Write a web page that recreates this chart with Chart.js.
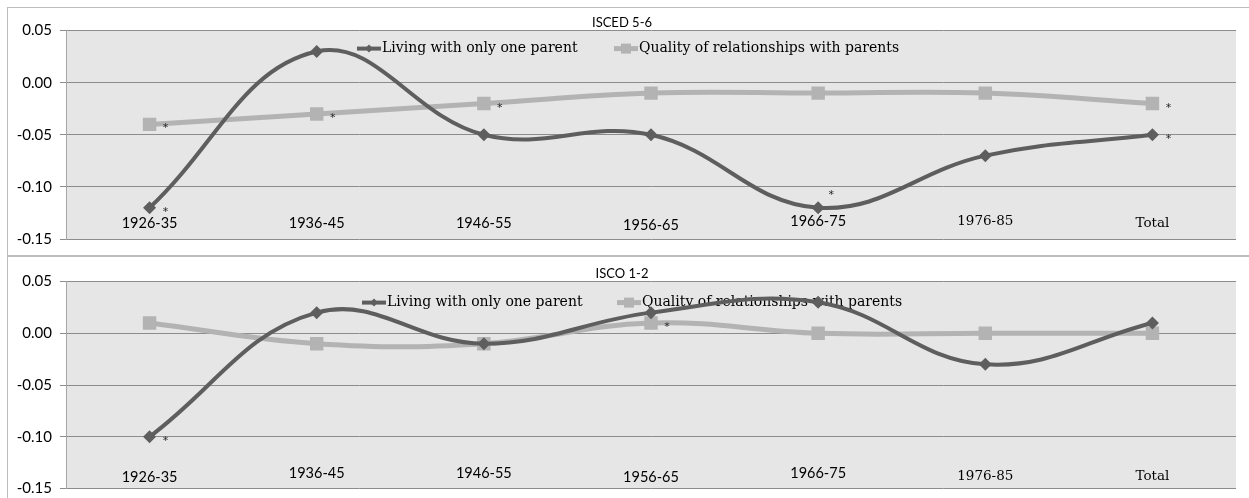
<!DOCTYPE html>
<html>
<head>
<meta charset="utf-8">
<script src="https://cdn.jsdelivr.net/npm/chart.js@4/dist/chart.umd.min.js"></script>
<style>
  body { margin: 0; background: #fff; width: 1249px; height: 498px; overflow: hidden; position: relative; }
  .panel { position: absolute; left: 7px; width: 1250px; border: 1px solid #bdbdbd; background: #fff; }
  #p1 { top: 7px; height: 247px; }
  #p2 { top: 256px; height: 250px; }
  canvas { display: block; }
</style>
</head>
<body>
<div class="panel" id="p1"><canvas id="c1" width="1241" height="247"></canvas></div>
<div class="panel" id="p2"><canvas id="c2" width="1241" height="241"></canvas></div>
<script>
// --- Data ---
const cohorts = ["1926-35", "1936-45", "1946-55", "1956-65", "1966-75", "1976-85", "Total"];
const seriesNames = ["Living with only one parent", "Quality of relationships with parents"];

// ISCED 5-6
const iscedLiving = [-0.12, 0.03, -0.05, -0.05, -0.12, -0.07, -0.05];
const iscedQuality = [-0.04, -0.03, -0.02, -0.01, -0.01, -0.01, -0.02];
const iscedLivingSig = [1, 0, 0, 0, 1, 0, 1];
const iscedQualitySig = [1, 1, 1, 0, 0, 0, 1];

// ISCO 1-2
const iscoLiving = [-0.10, 0.02, -0.01, 0.02, 0.03, -0.03, 0.01];
const iscoQuality = [0.01, -0.01, -0.01, 0.01, 0.00, 0.00, 0.00];
const iscoLivingSig = [1, 0, 0, 0, 0, 0, 0];
const iscoQualitySig = [0, 0, 0, 1, 0, 0, 0];

const DARK = "#5e5e5e";
const LIGHT = "#b3b3b3";

// --- Plugins ---
const plotBg = {
  id: "plotBg",
  beforeDraw(chart) {
    const { ctx, chartArea: a } = chart;
    ctx.save();
    ctx.fillStyle = "#e6e6e6";
    ctx.fillRect(a.left, a.top, a.right - a.left, a.bottom - a.top);
    ctx.restore();
  }
};

function marker(ctx, style, x, y, r, color) {
  ctx.fillStyle = color;
  ctx.beginPath();
  if (style === "rectRot") {
    ctx.moveTo(x, y - r); ctx.lineTo(x + r, y); ctx.lineTo(x, y + r); ctx.lineTo(x - r, y);
  } else {
    ctx.rect(x - r, y - r, 2 * r, 2 * r);
  }
  ctx.closePath();
  ctx.fill();
}

// Excel-like legend sitting inside the plot area
const lineLegend = {
  id: "lineLegend",
  beforeDatasetsDraw(chart, args, opts) {
    const { ctx, chartArea: a } = chart;
    const y = a.top + opts.dy;
    ctx.save();
    ctx.font = "14px 'DejaVu Serif'";
    ctx.textBaseline = "middle";
    chart.data.datasets.forEach((ds, i) => {
      const x = a.left + opts.xs[i];
      ctx.strokeStyle = ds.borderColor;
      ctx.lineWidth = ds.borderWidth;
      ctx.beginPath(); ctx.moveTo(x, y); ctx.lineTo(x + 24, y); ctx.stroke();
      marker(ctx, ds.pointStyle, x + 12, y, i === 0 ? 4 : 5, ds.borderColor);
      ctx.fillStyle = "#000";
      ctx.fillText(ds.label, x + 25, y);
    });
    ctx.restore();
  }
};

// significance asterisks next to points
const starMarks = {
  id: "starMarks",
  afterDatasetsDraw(chart, args, opts) {
    const { ctx } = chart;
    ctx.save();
    ctx.font = "11px 'DejaVu Sans'";
    ctx.fillStyle = "#222";
    ctx.textAlign = "center";
    ctx.textBaseline = "alphabetic";
    opts.sig.forEach((flags, i) => {
      const meta = chart.getDatasetMeta(i);
      flags.forEach((f, j) => {
        if (!f) return;
        const p = meta.data[j];
        const up = opts.above && opts.above[0] === i && opts.above[1] === j;
        ctx.fillText("*", p.x + (up ? 13 : 16), p.y + (up ? -10 : 7));
      });
    });
    ctx.restore();
  }
};

// category labels drawn inside the plot, like the original
const cohortLabels = {
  id: "cohortLabels",
  afterDatasetsDraw(chart, args, opts) {
    const { ctx } = chart;
    const xs = chart.scales.x, ys = chart.scales.y;
    ctx.save();
    ctx.fillStyle = "#000";
    ctx.textAlign = "center";
    ctx.textBaseline = "middle";
    chart.data.labels.forEach((c, i) => {
      ctx.font = i >= 5 ? "13.5px 'DejaVu Serif'" : "14.5px Lato";
      ctx.fillText(c, xs.getPixelForValue(i), ys.getPixelForValue(opts.at) + opts.dy[i]);
    });
    ctx.restore();
  }
};

function makeChart(id, title, living, quality, sig, cfg) {
  return new Chart(document.getElementById(id), {
    type: "line",
    data: {
      labels: cohorts,
      datasets: [
        {
          label: seriesNames[0],
          data: living,
          borderColor: DARK,
          backgroundColor: DARK,
          borderWidth: 4,
          pointStyle: "rectRot",
          pointRadius: 6.5,
          pointBorderWidth: 0,
          tension: 0.4
        },
        {
          label: seriesNames[1],
          data: quality,
          borderColor: LIGHT,
          backgroundColor: LIGHT,
          borderWidth: 5,
          pointStyle: "rect",
          pointRadius: 9.5,
          pointBorderWidth: 0,
          tension: 0.4
        }
      ]
    },
    options: {
      responsive: false,
      animation: false,
      layout: { padding: { right: 13, bottom: cfg.padBottom } },
      plugins: {
        legend: { display: false },
        tooltip: { enabled: false },
        title: {
          display: true,
          text: title,
          color: "#000",
          font: { family: "Lato", size: 13, weight: "normal" },
          padding: cfg.titlePad
        },
        lineLegend: cfg.legend,
        starMarks: { sig, above: cfg.above },
        cohortLabels: { at: -0.135, dy: cfg.labelDy }
      },
      scales: {
        x: { display: false, offset: true },
        y: {
          min: -0.15,
          max: 0.05,
          afterFit(scale) {
            scale.width = 58;
            scale.paddingTop = 0;
            scale.paddingBottom = 0;
          },
          ticks: {
            stepSize: 0.05,
            padding: 8,
            color: "#000",
            font: { family: "Lato", size: 15 },
            callback: v => {
              const r = Math.round(v * 100) / 100;
              return (Math.abs(r) < 1e-9 ? 0 : r).toFixed(2);
            }
          },
          grid: { color: "#8c8c8c", tickLength: 6, tickColor: "#8c8c8c" },
          border: { color: "#a6a6a6", width: 1 }
        }
      }
    },
    plugins: [plotBg, lineLegend, starMarks, cohortLabels]
  });
}

makeChart("c1", "ISCED 5-6", iscedLiving, iscedQuality, [iscedLivingSig, iscedQualitySig], {
  padBottom: 16,
  titlePad: { top: 7, bottom: 0 },
  legend: { xs: [291, 548], dy: 18 },
  above: [0, 4],
  labelDy: [0, 0, 0, 2, -2, -2, 0]
});

makeChart("c2", "ISCO 1-2", iscoLiving, iscoQuality, [iscoLivingSig, iscoQualitySig], {
  padBottom: 9,
  titlePad: { top: 9, bottom: 0 },
  legend: { xs: [296, 551], dy: 21 },
  above: null,
  labelDy: [4, 0, 0, 4, 0, 4, 4]
});
</script>
</body>
</html>
